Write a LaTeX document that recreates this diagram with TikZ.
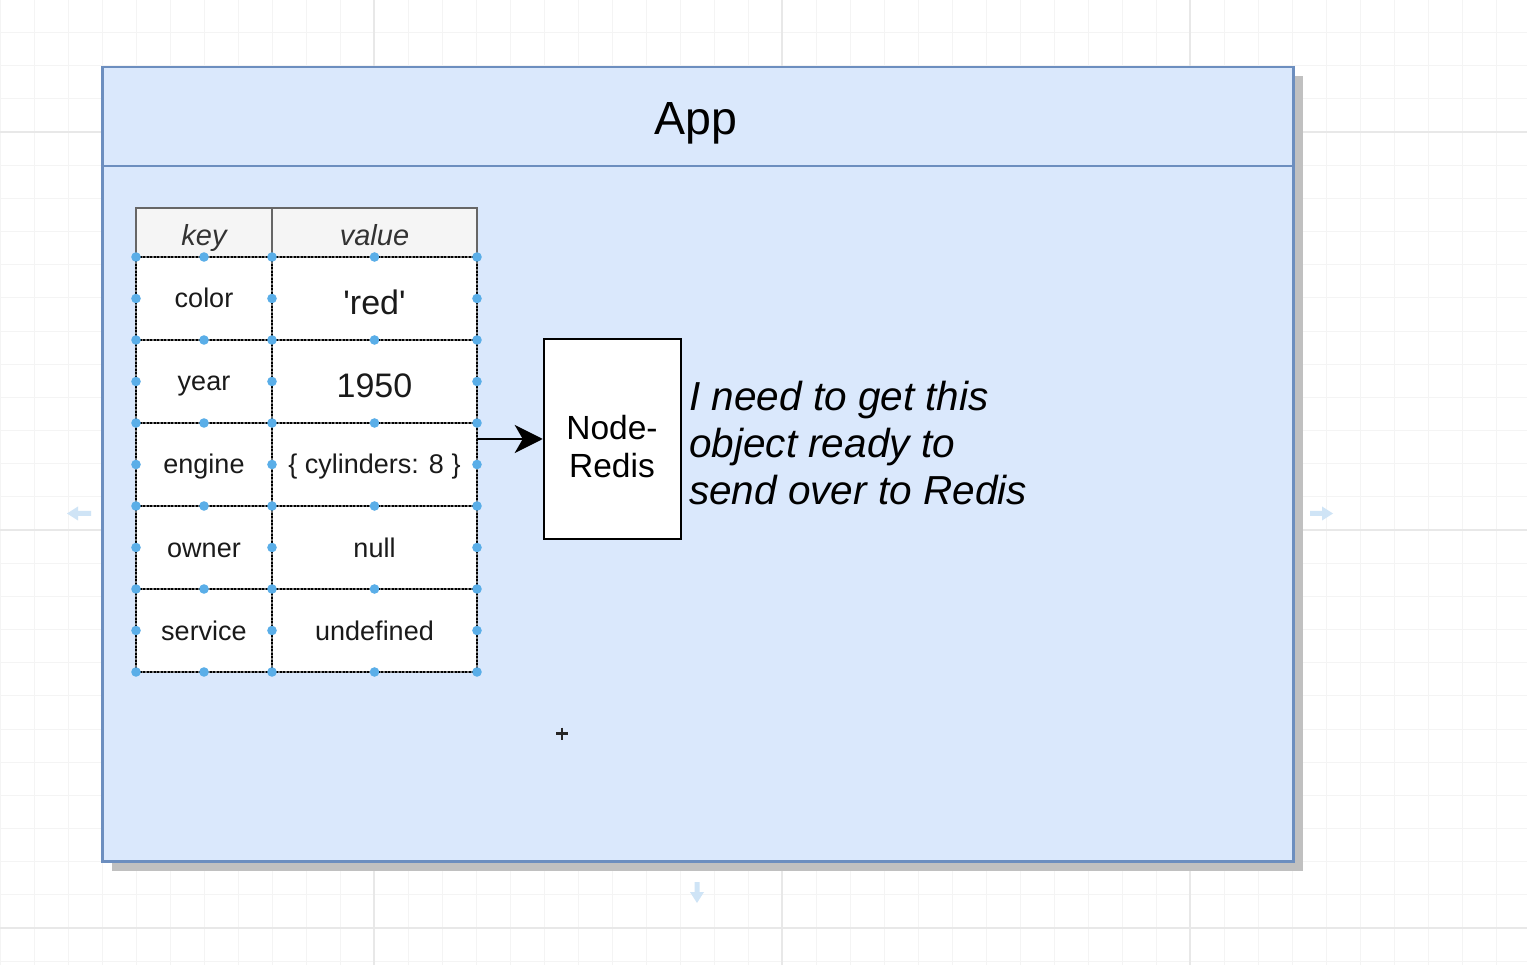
\documentclass[tikz,border=0pt]{standalone}
\usepackage{fontspec}
\setmainfont{Liberation Sans}
\usetikzlibrary{arrows.meta}
\definecolor{appfill}{HTML}{DAE8FC}
\definecolor{appdraw}{HTML}{6C8EBF}
\definecolor{shadowc}{HTML}{C0C0C0}
\definecolor{hdrfill}{HTML}{F5F5F5}
\definecolor{hdrdraw}{HTML}{666666}
\definecolor{hdrtext}{HTML}{333333}
\definecolor{dotc}{HTML}{5AAEE8}
\definecolor{hoverc}{HTML}{CFE4F6}
\definecolor{gridmin}{HTML}{F4F4F4}
\definecolor{gridmaj}{HTML}{E8E8E8}
\definecolor{celltext}{HTML}{1A1A1A}
\begin{document}
\begin{tikzpicture}[x=1pt,y=-1pt,
  gridminor/.style={draw=gridmin,line width=1pt},
  gridmajor/.style={draw=gridmaj,line width=1.2pt},
  appbox/.style={fill=appfill,draw=appdraw,line width=2.5pt},
  cellbase/.style={draw=black!55,line width=2.6pt},
  celldash/.style={draw=black,line width=1.7pt,dash pattern=on 2pt off 1.5pt},
  seldot/.style={fill=dotc,draw=none},
  keytxt/.style={anchor=base,inner sep=0pt,text=celltext,font=\fontsize{27}{32}\selectfont},
  bigtxt/.style={anchor=base,inner sep=0pt,text=celltext,font=\fontsize{34}{40}\selectfont},
  hdrtxt/.style={anchor=base,inner sep=0pt,text=hdrtext,font=\fontsize{29}{34}\selectfont\itshape},
  notetxt/.style={anchor=base west,inner sep=0pt,text=black,font=\fontsize{40.5}{48}\selectfont\itshape},
  redisbox/.style={draw=black,fill=white,line width=2.5pt,minimum width=137pt,minimum height=200pt,inner sep=0pt},
  redistxt/.style={anchor=base,inner sep=0pt,font=\fontsize{33.5}{38}\selectfont},
  arrowline/.style={draw=black,line width=2.8pt,-{Stealth[length=28pt,width=28pt,inset=8pt]}},
  hover/.style={fill=hoverc,draw=none}
]
\useasboundingbox (0,0) rectangle (1527,965);
\fill[white] (0,0) rectangle (1527,965);
% background grid
\foreach \i in {-23,...,22} {\draw[gridminor] ({782+34*\i},0) -- ({782+34*\i},965);}
\foreach \i in {-3,...,25} {\draw[gridminor] (0,{132+33.17*\i}) -- (1527,{132+33.17*\i});}
\foreach \xx in {374,782,1190} {\draw[gridmajor] (\xx,0) -- (\xx,965);}
\foreach \yy in {132,530,928} {\draw[gridmajor] (0,\yy) -- (1527,\yy);}
% App container with shadow
\fill[shadowc] (111.5,76) rectangle (1302.5,871);
\draw[appbox] (102.5,67) rectangle (1293.5,861.5);
\draw[shadowc,line width=2.5pt] (1295,166) -- (1302.5,166);
\draw[draw=appdraw,line width=2.5pt] (102.5,166) -- (1293.5,166);
\node[anchor=base,inner sep=0pt,font=\fontsize{46.5}{54}\selectfont] (apptitle) at (696,135) {App};
% table
\node[draw=none,minimum width=341pt,minimum height=464pt,inner sep=0pt,outer sep=0pt] (table) at (306.5,439) {};
\draw[fill=hdrfill,draw=hdrdraw,line width=2pt] (136,208) rectangle (477,257);
\draw[draw=hdrdraw,line width=2pt] (272,208) -- (272,257);
\fill[white] (136,257) rectangle (477,672);
\foreach \yy in {257,340,423,506,589,672} {
  \draw[cellbase] (136,\yy) -- (477,\yy);
  \draw[celldash] (136,\yy) -- (477,\yy);
}
\foreach \xx in {136,272,477} {
  \draw[cellbase] (\xx,257) -- (\xx,672);
  \draw[celldash] (\xx,257) -- (\xx,672);
}
\foreach \yy in {257,340,423,506,589,672} {
  \foreach \xx in {136,204,272,374.5,477} {\fill[seldot] (\xx,\yy) circle (4.8pt);}
}
\foreach \yy in {298.5,381.5,464.5,547.5,630.5} {
  \foreach \xx in {136,272,477} {\fill[seldot] (\xx,\yy) circle (4.8pt);}
}
\node[hdrtxt] (hkey) at (204,246) {key};
\node[hdrtxt] (hval) at (374.5,246) {value};
\node[keytxt] (k1) at (204,308) {color};
\node[keytxt] (k2) at (204,391) {year};
\node[keytxt] (k3) at (204,474) {engine};
\node[keytxt] (k4) at (204,557) {owner};
\node[keytxt] (k5) at (204,640) {service};
\node[bigtxt] (v1) at (374.5,315) {\textquotesingle red\textquotesingle};
\node[bigtxt] (v2) at (374.5,398) {1950};
\node[keytxt] (v3) at (374.5,474) {\{ cylinders: 8 \}};
\node[keytxt] (v4) at (374.5,557) {null};
\node[keytxt] (v5) at (374.5,640) {undefined};
% Node-Redis box
\node[redisbox] (redis) at (612.5,439) {};
\node[redistxt] (nr1) at (612,440) {Node-};
\node[redistxt] (nr2) at (612,478) {Redis};
\draw[arrowline] (table.east) -- (redis.west);
% note
\node[notetxt] (n1) at (689,411) {I need to get this};
\node[notetxt] (n2) at (689,458) {object ready to};
\node[notetxt] (n3) at (689,504) {send over to Redis};
% hover arrows
\fill[hover] (67,513.5) -- (78,506.5) -- (78,511) -- (91,511) -- (91,516) -- (78,516) -- (78,520.5) -- cycle;
\fill[hover] (1333,513.5) -- (1322,506.5) -- (1322,511) -- (1310,511) -- (1310,516) -- (1322,516) -- (1322,520.5) -- cycle;
\fill[hover] (697,903) -- (690,892) -- (694.5,892) -- (694.5,882) -- (699.5,882) -- (699.5,892) -- (704,892) -- cycle;
% cursor
\draw[black!85,line width=2.6pt] (556,733.5) -- (568,733.5);
\draw[black!85,line width=2.6pt] (562,727.5) -- (562,739.5);
\end{tikzpicture}
\end{document}
